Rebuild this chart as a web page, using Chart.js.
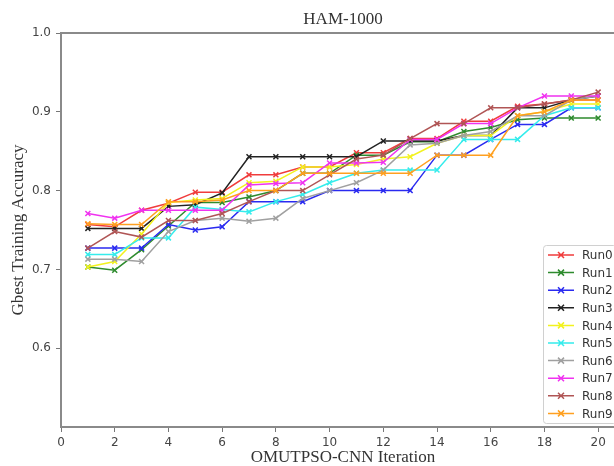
<!DOCTYPE html>
<html>
<head>
<title>HAM-1000 Gbest training accuracy</title>
<script src="https://cdn.jsdelivr.net/npm/chart.js@4.4.0/dist/chart.umd.min.js"></script>
<style>
    body { margin: 0; overflow: hidden; background: #fff; }
</style>
</head>
<body>
<canvas id="accChart" width="640" height="466"></canvas>

<script>
const iterations = [1, 2, 3, 4, 5, 6, 7, 8, 9, 10, 11, 12, 13, 14, 15, 16, 17, 18, 19, 20];

const run0 = [0.757, 0.754, 0.775, 0.784, 0.798, 0.798, 0.820, 0.820, 0.830, 0.830, 0.848, 0.848, 0.866, 0.866, 0.888, 0.888, 0.907, 0.910, 0.915, 0.915];
const run1 = [0.703, 0.699, 0.725, 0.755, 0.785, 0.785, 0.792, 0.800, 0.822, 0.822, 0.845, 0.845, 0.862, 0.862, 0.875, 0.880, 0.890, 0.892, 0.892, 0.892];
const run2 = [0.727, 0.727, 0.727, 0.757, 0.750, 0.754, 0.786, 0.786, 0.786, 0.800, 0.800, 0.800, 0.800, 0.845, 0.845, 0.865, 0.884, 0.884, 0.905, 0.905];
const run3 = [0.752, 0.752, 0.752, 0.780, 0.782, 0.797, 0.843, 0.843, 0.843, 0.843, 0.843, 0.863, 0.863, 0.863, 0.870, 0.870, 0.905, 0.905, 0.915, 0.920];
const run4 = [0.703, 0.710, 0.745, 0.785, 0.788, 0.790, 0.810, 0.812, 0.830, 0.830, 0.833, 0.840, 0.843, 0.860, 0.870, 0.870, 0.895, 0.900, 0.910, 0.910];
const run5 = [0.719, 0.719, 0.740, 0.740, 0.779, 0.776, 0.773, 0.786, 0.795, 0.810, 0.822, 0.826, 0.826, 0.826, 0.865, 0.865, 0.865, 0.895, 0.905, 0.905];
const run6 = [0.713, 0.713, 0.710, 0.748, 0.762, 0.765, 0.761, 0.765, 0.790, 0.800, 0.810, 0.826, 0.858, 0.860, 0.870, 0.875, 0.895, 0.895, 0.915, 0.920];
const run7 = [0.771, 0.765, 0.775, 0.775, 0.775, 0.775, 0.807, 0.809, 0.810, 0.835, 0.835, 0.836, 0.865, 0.865, 0.885, 0.885, 0.905, 0.920, 0.920, 0.920];
const run8 = [0.727, 0.748, 0.741, 0.762, 0.762, 0.771, 0.786, 0.800, 0.800, 0.820, 0.840, 0.845, 0.866, 0.885, 0.885, 0.905, 0.905, 0.910, 0.915, 0.925];
const run9 = [0.758, 0.757, 0.757, 0.786, 0.786, 0.788, 0.800, 0.800, 0.822, 0.822, 0.822, 0.822, 0.822, 0.845, 0.845, 0.845, 0.895, 0.900, 0.915, 0.915];

const runLabels = ['Run0', 'Run1', 'Run2', 'Run3', 'Run4', 'Run5', 'Run6', 'Run7', 'Run8', 'Run9'];
const xTicks = [0, 2, 4, 6, 8, 10, 12, 14, 16, 18, 20];
const yTicks = [0.6, 0.7, 0.8, 0.9, 1.0];

const runs = [run0, run1, run2, run3, run4, run5, run6, run7, run8, run9];
const runColors = ['#f03c3c', '#2e8b2e', '#2a2af0', '#222222', '#f2f21e', '#35ecec', '#a0a0a0', '#f032f0', '#b05555', '#ffa020'];

// axes frame + legend box in the lower right, drawn over the lines like matplotlib
const frameAndLegend = {
    id: 'frameAndLegend',
    afterDatasetsDraw(chart) {
        const ctx = chart.ctx;
        const a = chart.chartArea;
        ctx.save();
        ctx.strokeStyle = '#8a8a8a';
        ctx.lineWidth = 2;
        ctx.strokeRect(a.left, a.top, a.right - a.left, a.bottom - a.top);

        // legend
        ctx.fillStyle = 'rgba(255,255,255,0.85)';
        ctx.strokeStyle = '#d0d0d0';
        ctx.lineWidth = 1;
        ctx.beginPath();
        ctx.roundRect(543.5, 245.5, 73, 178, 3);
        ctx.fill();
        ctx.stroke();

        ctx.font = '12px "DejaVu Sans"';
        ctx.textBaseline = 'middle';
        chart.data.datasets.forEach(function (ds, i) {
            const y = 255 + i * 17.6;
            ctx.strokeStyle = ds.borderColor;
            ctx.lineWidth = 1.5;
            ctx.beginPath();
            ctx.moveTo(548, y);
            ctx.lineTo(574, y);
            ctx.moveTo(558, y - 3);
            ctx.lineTo(564, y + 3);
            ctx.moveTo(558, y + 3);
            ctx.lineTo(564, y - 3);
            ctx.stroke();
            ctx.fillStyle = '#333';
            ctx.fillText(ds.label, 582, y + 1);
        });
        ctx.restore();
    }
};

const datasets = runs.map(function (run, i) {
    return {
        label: runLabels[i],
        data: iterations.map((x, j) => ({ x: x, y: run[j] })),
        borderColor: runColors[i],
        backgroundColor: runColors[i],
        borderWidth: 1.5,
        pointStyle: 'crossRot',
        pointRadius: 3.5,
        pointBorderWidth: 1.5,
        tension: 0,
        order: 9 - i
    };
});

const tickFont = { family: 'DejaVu Sans', size: 12 };
const serifFont = { family: 'Liberation Serif', size: 17, lineHeight: 1 };

new Chart(document.getElementById('accChart'), {
    type: 'line',
    data: { datasets: datasets },
    options: {
        responsive: false,
        animation: false,
        layout: { padding: { left: 0, right: 15, top: 0, bottom: 0 } },
        plugins: {
            legend: { display: false },
            tooltip: { enabled: false },
            title: {
                display: true,
                text: 'HAM-1000',
                fullSize: false,
                color: '#333',
                font: { family: 'Liberation Serif', size: 17, weight: 'normal', lineHeight: 1.2 },
                padding: { top: 9, bottom: 3.6 }
            }
        },
        scales: {
            x: {
                type: 'linear',
                min: 0,
                max: 21,
                afterBuildTicks: s => { s.ticks = xTicks.map(v => ({ value: v })); },
                afterFit: s => { s.height = 39; },
                grid: { drawOnChartArea: false, drawTicks: true, tickLength: 5, color: '#777' },
                border: { display: false },
                ticks: { font: tickFont, color: '#444', padding: 4, maxRotation: 0 },
                title: { display: true, text: 'OMUTPSO-CNN Iteration', color: '#333', font: serifFont, padding: { top: 0, bottom: 0 } }
            },
            y: {
                type: 'linear',
                min: 0.5,
                max: 1.0,
                afterBuildTicks: s => { s.ticks = yTicks.map(v => ({ value: v })); },
                afterFit: s => { s.width = 61; },
                grid: { drawOnChartArea: false, drawTicks: true, tickLength: 5, color: '#777' },
                border: { display: false },
                ticks: { font: tickFont, color: '#444', padding: 5, callback: v => v.toFixed(1) },
                title: { display: true, text: 'Gbest Training Accuracy', color: '#333', font: serifFont, padding: { top: 10, bottom: 0 } }
            }
        }
    },
    plugins: [frameAndLegend]
});
</script>
</body>
</html>
